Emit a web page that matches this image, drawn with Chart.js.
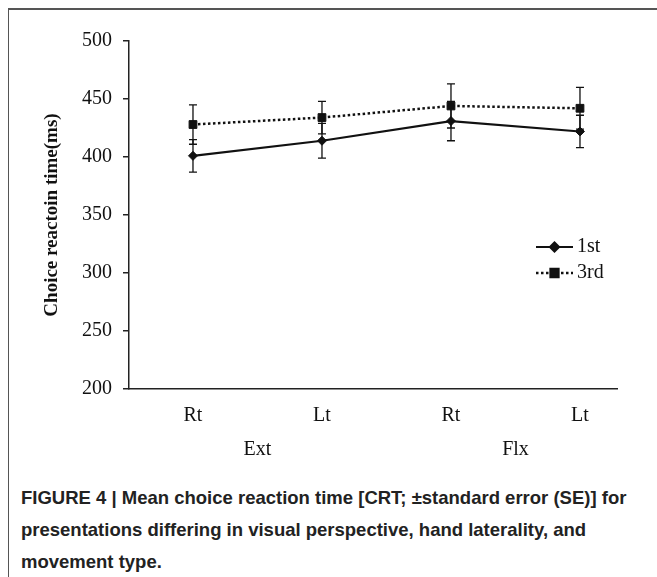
<!DOCTYPE html>
<html><head><meta charset="utf-8">
<script src="https://cdn.jsdelivr.net/npm/chart.js@4"></script>
<style>
html,body{margin:0;padding:0;background:#fff;width:657px;height:577px;overflow:hidden}
#frame{position:absolute;left:8px;top:8px;width:700px;height:620px;border-left:1.5px solid #555;border-top:2px solid #555;}
#wrap{position:absolute;left:0;top:0;width:657px;height:470px}
#cap{position:absolute;left:21px;top:482px;font-family:"Liberation Sans",Arial,sans-serif;font-weight:bold;font-size:18.5px;line-height:32px;color:#222;white-space:nowrap}
</style></head><body>
<div id="frame"></div>
<div id="wrap"><canvas id="c" width="657" height="470"></canvas></div>
<div id="cap">FIGURE 4 | Mean choice reaction time [CRT; ±standard error (SE)] for<br>presentations differing in visual perspective, hand laterality, and<br>movement type.</div>
<script>
const categories = ['Rt', 'Lt', 'Rt', 'Lt'];
const groups = ['Ext', 'Flx'];
const seriesNames = ['1st', '3rd'];
const first = [401, 414, 431, 422];
const firstSE = [14, 15, 17, 14];
const third = [428, 434, 444, 442];
const thirdSE = [17, 14, 19, 18];
const yTicks = [200, 250, 300, 350, 400, 450, 500];
const yTitle = 'Choice reactoin time(ms)';

const serif = '"Liberation Serif","Times New Roman",serif';

const errorBars = {
  id: 'errorBars',
  beforeDatasetsDraw(chart) {
    const ctx = chart.ctx, xs = chart.scales.x, ys = chart.scales.y;
    ctx.save();
    ctx.strokeStyle = '#111';
    ctx.lineWidth = 1.3;
    chart.data.datasets.forEach(ds => {
      ds.data.forEach((p, i) => {
        const x = xs.getPixelForValue(p.x);
        const y1 = ys.getPixelForValue(p.y - ds.se[i]);
        const y2 = ys.getPixelForValue(p.y + ds.se[i]);
        ctx.beginPath();
        ctx.moveTo(x, y1); ctx.lineTo(x, y2);
        ctx.moveTo(x - 4, y1); ctx.lineTo(x + 4, y1);
        ctx.moveTo(x - 4, y2); ctx.lineTo(x + 4, y2);
        ctx.stroke();
      });
    });
    ctx.restore();
  }
};

const groupLabels = {
  id: 'groupLabels',
  afterDraw(chart) {
    const ctx = chart.ctx, xs = chart.scales.x;
    ctx.save();
    ctx.font = '20px ' + serif;
    ctx.fillStyle = '#111';
    ctx.textAlign = 'center';
    ctx.textBaseline = 'middle';
    groups.forEach((g, k) => {
      const x = (xs.getPixelForValue(2 * k) + xs.getPixelForValue(2 * k + 1)) / 2;
      ctx.fillText(g, x, xs.top + 61);
    });
    ctx.restore();
  }
};

const customLegend = {
  id: 'customLegend',
  afterDraw(chart) {
    const ctx = chart.ctx, a = chart.chartArea;
    ctx.save();
    ctx.font = '20px ' + serif;
    ctx.fillStyle = '#111';
    ctx.textBaseline = 'middle';
    chart.data.datasets.forEach((ds, k) => {
      const y = a.top + 206 + k * 26;
      const x0 = a.right - 81, x1 = a.right - 44;
      ctx.strokeStyle = '#111';
      ctx.lineWidth = ds.borderWidth;
      ctx.setLineDash(ds.borderDash || []);
      ctx.beginPath(); ctx.moveTo(x0, y); ctx.lineTo(x1, y); ctx.stroke();
      ctx.setLineDash([]);
      Chart.helpers.drawPoint(ctx, {pointStyle: ds.pointStyle, radius: ds.pointRadius, rotation: 0, borderWidth: 1}, (x0 + x1) / 2, y);
      ctx.fillStyle = '#111';
      ctx.fill();
      ctx.fillText(ds.label, x1 + 4, y);
    });
    ctx.restore();
  }
};

const toPts = arr => arr.map((v, i) => ({x: i, y: v}));

new Chart(document.getElementById('c'), {
  type: 'line',
  data: {
    datasets: [
      {label: seriesNames[0], data: toPts(first), se: firstSE, borderColor: '#111', backgroundColor: '#111',
       borderWidth: 2.2, pointStyle: 'rectRot', pointRadius: 4.5, pointBorderWidth: 1, tension: 0},
      {label: seriesNames[1], data: toPts(third), se: thirdSE, borderColor: '#111', backgroundColor: '#111',
       borderWidth: 2.5, borderDash: [2.5, 2.5], pointStyle: 'rect', pointRadius: 5.5, pointBorderWidth: 1, tension: 0}
    ]
  },
  options: {
    responsive: false,
    animation: false,
    devicePixelRatio: 1,
    layout: {padding: {top: 41, right: 40, left: 0, bottom: 0}},
    plugins: {legend: {display: false}, tooltip: {enabled: false}},
    scales: {
      x: {
        type: 'linear',
        min: -0.496, max: 3.287,
        afterBuildTicks: s => { s.ticks = categories.map((c, i) => ({value: i})); },
        afterFit: s => { s.height = 81; },
        ticks: {callback: v => categories[v], font: {family: serif, size: 20}, color: '#111', padding: 15, maxRotation: 0, autoSkip: false},
        grid: {display: false, drawTicks: false},
        border: {display: true, color: '#222', width: 1.5}
      },
      y: {
        min: 200, max: 500,
        afterBuildTicks: s => { s.ticks = yTicks.map(v => ({value: v})); },
        afterFit: s => { s.width = 129; },
        ticks: {font: {family: serif, size: 20}, color: '#111', padding: 11},
        grid: {drawOnChartArea: false, drawTicks: true, tickLength: 6, color: '#222', lineWidth: 1.5},
        border: {display: true, color: '#222', width: 1.5},
        title: {display: true, text: yTitle, font: {family: serif, size: 19, weight: 'bold'}, color: '#111', padding: {top: 41, bottom: 0}}
      }
    }
  },
  plugins: [errorBars, groupLabels, customLegend]
});
</script>
</body></html>
